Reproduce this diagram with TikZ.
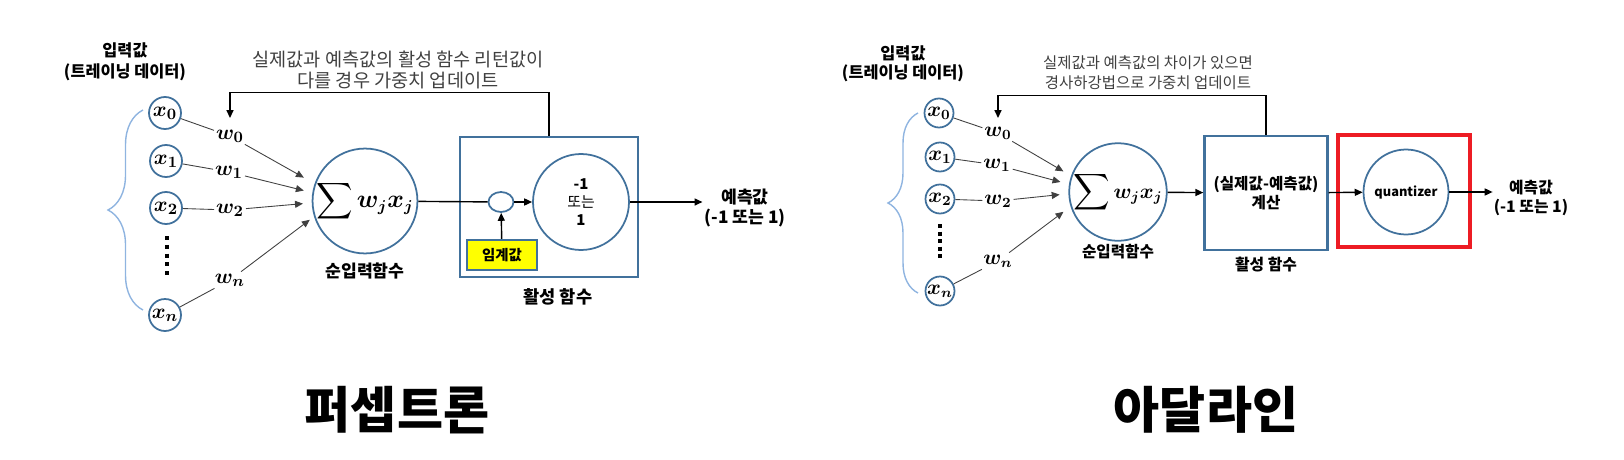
\documentclass[tikz,border=0pt]{standalone}
\usepackage{amsmath}
\usepackage{fontspec}
\setmainfont{Noto Sans CJK KR}
\usepackage{bm}
\usetikzlibrary{arrows.meta,shapes.geometric,decorations.pathreplacing}

\definecolor{nodeblue}{HTML}{41719C}
\definecolor{bracelight}{HTML}{8FB4E0}
\definecolor{captiongray}{HTML}{404040}
\definecolor{quantred}{HTML}{ED1C24}
\definecolor{limityellow}{HTML}{FFFF00}

\begin{document}
\begin{tikzpicture}[x=0.02cm, y=-0.02cm,
    inp/.style={draw=nodeblue, line width=1pt, circle, inner sep=0pt},
    wlab/.style={fill=white, inner sep=1pt},
    wline/.style={draw=captiongray, line width=0.5pt},
    mline/.style={line width=0.8pt},
    tip/.style={-{Triangle[length=4.5pt,width=4pt]}},
    brace/.style={draw=bracelight, line width=0.8pt, decorate, decoration={brace, amplitude=#1}}]

    \useasboundingbox (0,0) rectangle (1624,460);

    % Nodes (perceptron)
    \node [inp, minimum size=0.64cm, font=\fontsize{13}{15}\selectfont] (x0) at (165,113) {$\bm{x_0}$};
    \node [inp, minimum size=0.64cm, font=\fontsize{13}{15}\selectfont] (x1) at (166,161) {$\bm{x_1}$};
    \node [inp, minimum size=0.64cm, font=\fontsize{13}{15}\selectfont] (x2) at (166,208) {$\bm{x_2}$};
    \node [inp, minimum size=0.64cm, font=\fontsize{13}{15}\selectfont] (xn) at (165,315) {$\bm{x_n}$};
    \node [wlab, font=\fontsize{12.5}{14}\selectfont] (w0) at (230,136) {$\bm{w_0}$};
    \node [wlab, font=\fontsize{12.5}{14}\selectfont] (w1) at (229,172) {$\bm{w_1}$};
    \node [wlab, font=\fontsize{12.5}{14}\selectfont] (w2) at (230,210) {$\bm{w_2}$};
    \node [wlab, font=\fontsize{12.5}{14}\selectfont] (wn) at (230,280) {$\bm{w_n}$};
    \node [inp, minimum size=1.96cm, font=\fontsize{13.5}{15}\selectfont] (sum) at (365,201) {{\fontsize{14.5}{17}\selectfont$\displaystyle\sum$}\,$\bm{w_j x_j}$};
    \node [below of=sum, node distance=1.4cm, font=\bfseries\fontsize{9.8}{11}\selectfont] (netlab) {순입력함수};
    \node [draw=nodeblue, line width=1.4pt, minimum width=3.56cm, minimum height=2.8cm] (act) at (549,207) {};
    \node [font=\bfseries\fontsize{10}{11}\selectfont] (actlab) at (558,297) {활성 함수};
    \node [draw=nodeblue, line width=1pt, ellipse, minimum width=0.5cm, minimum height=0.4cm, inner sep=0pt] (thr) at (501,202) {};
    \node [inp, minimum size=1.92cm, align=center, font=\fontsize{8.5}{10.2}\selectfont] (step) at (581,202) {\textbf{-1}\\또는\\\textbf{1}};
    \node [draw=nodeblue, line width=1.2pt, fill=limityellow, minimum width=1.4cm, minimum height=0.6cm, font=\bfseries\fontsize{8.2}{10}\selectfont] (lim) at (502,255) {임계값};
    \node [align=center, inner sep=1pt, font=\bfseries\fontsize{9.8}{11.4}\selectfont] (pred) at (745,208) {예측값\\(-1 또는 1)};
    \node [align=center, font=\bfseries\fontsize{9.3}{12}\selectfont] (inlab) at (125,62) {입력값\\(트레이닝 데이터)};
    \node [align=center, text=captiongray, font=\fontsize{10.6}{11.6}\selectfont] (upd) at (398,70) {실제값과 예측값의 활성 함수 리턴값이\\다를 경우 가중치 업데이트};
    \node [font=\bfseries\fontsize{28.5}{32}\selectfont] (title1) at (397,410) {퍼셉트론};
    \coordinate (fb1) at (230,118);

    % Arrows (perceptron)
    \draw [brace=0.7cm] (143,310) -- (143,110);
    \draw [line width=2.3pt, dash pattern=on 2.3pt off 2.7pt] (167,236) -- (167,275);
    \draw [wline] (x0) -- (w0);
    \draw [wline] (x1) -- (w1);
    \draw [wline] (x2) -- (w2);
    \draw [wline] (xn) -- (wn);
    \draw [wline, tip, shorten >=7pt] (w0) -- (sum.161);
    \draw [wline, tip, shorten >=5pt] (w1) -- (sum.171);
    \draw [wline, tip, shorten >=5pt] (w2) -- (sum.182);
    \draw [wline, tip, shorten >=3pt] (wn) -- (sum.197);
    \draw [mline] (sum) -- (thr);
    \draw [mline, tip] (thr) -- (step);
    \draw [mline, tip] (lim) -- (thr);
    \draw [mline, tip] (step) -- (pred.west |- step);
    \draw [mline, tip] (act.north) -- ++(0,-43) -| (fb1);

    % Nodes (adaline)
    \node [inp, minimum size=0.58cm, font=\fontsize{12}{14}\selectfont] (a0) at (939,113) {$\bm{x_0}$};
    \node [inp, minimum size=0.58cm, font=\fontsize{12}{14}\selectfont] (a1) at (940,157) {$\bm{x_1}$};
    \node [inp, minimum size=0.58cm, font=\fontsize{12}{14}\selectfont] (a2) at (940,199) {$\bm{x_2}$};
    \node [inp, minimum size=0.58cm, font=\fontsize{12}{14}\selectfont] (an) at (940,291) {$\bm{x_n}$};
    \node [wlab, font=\fontsize{11.5}{13}\selectfont] (v0) at (998,133) {$\bm{w_0}$};
    \node [wlab, font=\fontsize{11.5}{13}\selectfont] (v1) at (997,165) {$\bm{w_1}$};
    \node [wlab, font=\fontsize{11.5}{13}\selectfont] (v2) at (998,201) {$\bm{w_2}$};
    \node [wlab, font=\fontsize{11.5}{13}\selectfont] (vn) at (998,261) {$\bm{w_n}$};
    \node [inp, minimum size=1.68cm, font=\fontsize{12}{13}\selectfont] (sum2) at (1118,192) {{\fontsize{13.5}{16}\selectfont$\displaystyle\sum$}\,$\bm{w_j x_j}$};
    \node [below of=sum2, node distance=1.2cm, font=\bfseries\fontsize{8.9}{10}\selectfont] (netlab2) {순입력함수};
    \node [draw=nodeblue, line width=1.4pt, minimum width=2.46cm, minimum height=2.28cm, align=center, font=\bfseries\fontsize{8.9}{10.8}\selectfont] (err) at (1266,193) {(실제값-예측값)\\계산};
    \node [below of=err, node distance=1.44cm, font=\bfseries\fontsize{9}{10}\selectfont] (actlab2) {활성 함수};
    \node [draw=quantred, line width=2.3pt, minimum width=2.64cm, minimum height=2.24cm] (qbox) at (1404,191) {};
    \node [inp, minimum size=1.7cm, font=\bfseries\fontsize{7.3}{8}\selectfont] (quant) at (1406,192) {quantizer};
    \node [align=center, inner sep=0.5pt, font=\bfseries\fontsize{9}{10.8}\selectfont] (pred2) at (1531,198) {예측값\\(-1 또는 1)};
    \node [align=center, font=\bfseries\fontsize{9.3}{10.8}\selectfont] (inlab2) at (903,64) {입력값\\(트레이닝 데이터)};
    \node [align=center, text=captiongray, font=\fontsize{8.8}{11.4}\selectfont] (upd2) at (1148,73) {실제값과 예측값의 차이가 있으면\\경사하강법으로 가중치 업데이트};
    \node [font=\bfseries\fontsize{28.5}{32}\selectfont] (title2) at (1206,410) {아달라인};
    \coordinate (fb2) at (998,118);

    % Arrows (adaline)
    \draw [brace=0.6cm] (918,293) -- (918,113);
    \draw [line width=2.3pt, dash pattern=on 2.3pt off 2pt] (940,224) -- (940,258);
    \draw [wline] (a0) -- (v0);
    \draw [wline] (a1) -- (v1);
    \draw [wline] (a2) -- (v2);
    \draw [wline] (an) -- (vn);
    \draw [wline, tip, shorten >=5pt] (v0) -- (sum2.161);
    \draw [wline, tip, shorten >=5pt] (v1) -- (sum2.171);
    \draw [wline, tip, shorten >=5pt] (v2) -- (sum2.182);
    \draw [wline, tip, shorten >=5pt] (vn) -- (sum2.197);
    \draw [mline, tip] (sum2) -- (err);
    \draw [mline, tip] (err) -- (quant);
    \draw [mline, tip] (quant) -- (pred2.west |- quant);
    \draw [mline, tip] (err.north) -- ++(0,-39) -| (fb2);
\end{tikzpicture}
\end{document}
